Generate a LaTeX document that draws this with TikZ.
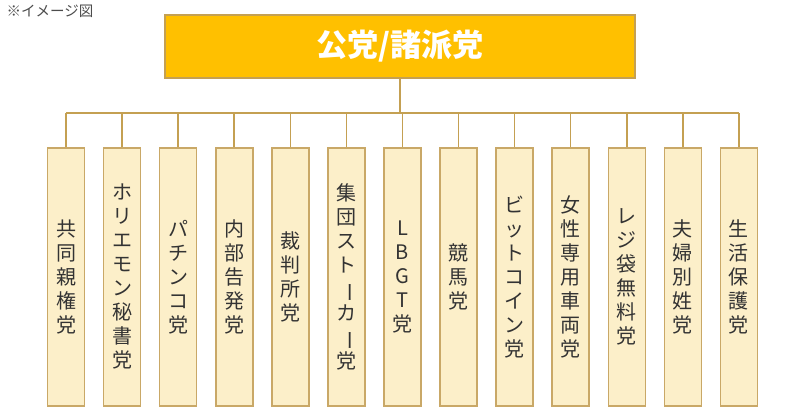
\documentclass[tikz,border=0pt]{standalone}
\usepackage{fontspec}
\usepackage{graphicx}
\setmainfont{Noto Sans CJK JP}
\newcommand{\vb}{\rotatebox[origin=c]{-90}{ー}}
\definecolor{gold}{HTML}{FFC000}
\definecolor{goldline}{HTML}{C4A052}
\definecolor{boxfill}{HTML}{FCEFC9}
\definecolor{boxline}{HTML}{C9A867}
\tikzset{
 party/.style={draw=boxline,line width=1.6pt,fill=boxfill,minimum width=37pt,minimum height=258pt,inner sep=0pt,align=center,font=\fontsize{20}{24}\selectfont,text=black!80},
 link/.style={draw=goldline,line width=1.5pt},
}
\begin{document}
\begin{tikzpicture}[x=1pt,y=-1pt]
\useasboundingbox (0,0) rectangle (800,418);
\node[anchor=north west,font=\fontsize{14.5}{14.5}\selectfont,text=black!70] (note) at (3,1) {※イメージ図};
\node[draw=goldline,line width=2pt,fill=gold,minimum width=470pt,minimum height=63pt,font=\fontsize{31}{31}\selectfont\bfseries,text=white] (top) at (400,46) {公党/諸派党};
\coordinate (j) at (400,113);
\foreach \t [count=\i] in {
 {共\\同\\親\\権\\党},
 {ホ\\リ\\エ\\モ\\ン\\秘\\書\\党},
 {パ\\チ\\ン\\コ\\党},
 {内\\部\\告\\発\\党},
 {裁\\判\\所\\党},
 {集\\団\\ス\\ト\\\vb\\カ\\\vb\\党},
 {L\\B\\G\\T\\党},
 {競\\馬\\党},
 {ビ\\ッ\\ト\\コ\\イ\\ン\\党},
 {女\\性\\専\\用\\車\\両\\党},
 {レ\\ジ\\袋\\無\\料\\党},
 {夫\\婦\\別\\姓\\党},
 {生\\活\\保\\護\\党}}{
 \node[party,anchor=north] (b\i) at ({66+56.08*(\i-1)},147) {\t};
 \coordinate (c\i) at ({66+56.08*(\i-1)},113);
 \draw[link] (c\i) -- (b\i.north);
}
\draw[link] (top.south) -- (j);
\draw[link] (c1) -- (c13);
\end{tikzpicture}
\end{document}
